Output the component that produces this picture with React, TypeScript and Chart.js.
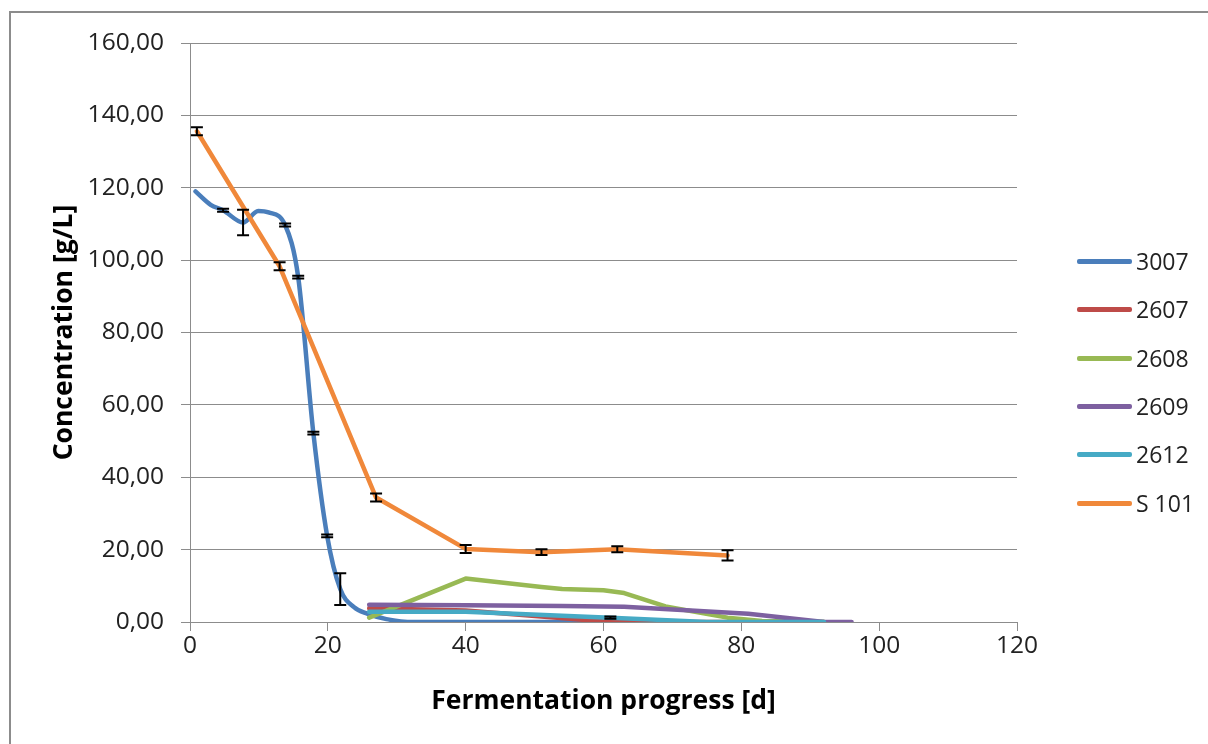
import React, { useEffect, useRef } from "react";
import { Chart, registerables } from "chart.js";

Chart.register(...registerables);

// ---- data ----
const seriesNames = ["3007", "2607", "2608", "2609", "2612", "S 101"];
const seriesColors = ["#4A7EBB", "#BE4B48", "#98B954", "#7D60A0", "#46AAC5", "#F0883A"];

const days3007 = [0.8, 3, 4.8, 7.7, 9.9, 11.4, 13.8, 15.7, 17.9, 19.9, 21.8, 23.8, 25.7, 28.5, 32.5, 40, 61];
const conc3007 = [119, 115.3, 113.8, 110.4, 113.6, 113.2, 109.7, 95.3, 52.2, 23.8, 9.1, 4.1, 2.3, 0.8, 0, 0, 0];
const err3007 = [0, 0, 0.4, 3.5, 0, 0, 0.4, 0.4, 0.4, 0.4, 4.4, 0, 0, 0, 0, 0, 0];

const days2607 = [26, 40, 61, 80, 92];
const conc2607 = [3.8, 3.2, 0, 0, 0];

const days2608 = [26, 40, 51, 54, 60, 63, 69, 78, 83, 92];
const conc2608 = [1.2, 12, 9.7, 9.1, 8.8, 8.0, 4.3, 1.2, 0.3, 0];

const days2609 = [26, 40, 54, 63, 81, 92, 96];
const conc2609 = [4.8, 4.6, 4.4, 4.2, 2.3, 0, 0];

const days2612 = [26, 40, 61, 75, 92];
const conc2612 = [2.8, 2.8, 1.2, 0, 0];
const err2612 = [0, 0, 0.3, 0, 0];

const daysS101 = [1, 13, 27, 40, 51, 62, 78];
const concS101 = [135.6, 98.3, 34.4, 20.2, 19.3, 20.1, 18.4];
const errS101 = [1.1, 1.1, 1.1, 1.1, 0.8, 0.8, 1.4];

const xTicksMax = 120;
const yTicksMax = 160;

const FONT = "'Open Sans', Lato, sans-serif";

function pts(xs: number[], ys: number[]) {
  return xs.map((x, i) => ({ x, y: ys[i] }));
}

const errorBarPlugin = {
  id: "errorBars",
  afterDatasetsDraw(chart: any) {
    const ctx = chart.ctx;
    const xs = chart.scales.x;
    const ys = chart.scales.y;
    ctx.save();
    ctx.strokeStyle = "#000";
    ctx.lineWidth = 2;
    chart.data.datasets.forEach((ds: any) => {
      const errs: number[] | undefined = ds.errors;
      if (!errs) return;
      ds.data.forEach((p: any, j: number) => {
        const e = errs[j];
        if (!e) return;
        const px = xs.getPixelForValue(p.x);
        const top = ys.getPixelForValue(p.y + e);
        const bot = ys.getPixelForValue(p.y - e);
        ctx.beginPath();
        ctx.moveTo(px, top);
        ctx.lineTo(px, bot);
        ctx.moveTo(px - 6, top);
        ctx.lineTo(px + 6, top);
        ctx.moveTo(px - 6, bot);
        ctx.lineTo(px + 6, bot);
        ctx.stroke();
      });
    });
    ctx.restore();
  },
};

export default function App() {
  const ref = useRef<HTMLCanvasElement | null>(null);

  useEffect(() => {
    if (!ref.current) return;
    const allX = [days3007, days2607, days2608, days2609, days2612, daysS101];
    const allY = [conc3007, conc2607, conc2608, conc2609, conc2612, concS101];
    const allErr: (number[] | undefined)[] = [err3007, undefined, undefined, undefined, err2612, errS101];
    const datasets = seriesNames.map((name, i) => ({
      label: name,
      data: pts(allX[i], allY[i]),
      errors: allErr[i],
      borderColor: seriesColors[i],
      backgroundColor: seriesColors[i],
      borderWidth: 4.5,
      pointRadius: 0,
      fill: false,
      tension: 0,
      cubicInterpolationMode: i === 0 ? "monotone" : "default",
      order: seriesNames.length - i,
      borderCapStyle: "round",
      borderJoinStyle: "round",
    }));

    const chart = new Chart(ref.current, {
      type: "line",
      data: { datasets: datasets as any },
      plugins: [errorBarPlugin],
      options: {
        responsive: false,
        animation: false,
        layout: { padding: { left: 0, top: 43, right: 191, bottom: 0 } },
        plugins: {
          legend: { display: false },
          tooltip: { enabled: false },
        },
        scales: {
          x: {
            type: "linear",
            min: 0,
            max: xTicksMax,
            afterFit: (s: any) => {
              s.height = 122;
            },
            ticks: {
              stepSize: 20,
              padding: 0,
              color: "#222",
              font: { family: FONT, size: 24.5 },
              maxRotation: 0,
            },
            grid: {
              drawOnChartArea: false,
              color: "#8c8c8c",
              tickLength: 9,
              lineWidth: 1,
            },
            border: { display: true, color: "#8c8c8c", width: 1 },
            title: {
              display: true,
              text: "Fermentation progress [d]",
              color: "#000",
              font: { family: FONT, size: 26.5, weight: "bold" },
              padding: { top: 0, bottom: 27 },
            },
          },
          y: {
            type: "linear",
            min: 0,
            max: yTicksMax,
            afterFit: (s: any) => {
              s.width = 190;
            },
            ticks: {
              stepSize: 20,
              padding: 17,
              color: "#222",
              font: { family: FONT, size: 24.5 },
              callback: (v: any) => Number(v).toFixed(2).replace(".", ","),
            },
            grid: {
              color: "#8c8c8c",
              tickLength: 9,
              lineWidth: 1,
            },
            border: { display: true, color: "#8c8c8c", width: 1 },
            title: {
              display: true,
              text: "Concentration [g/L]",
              color: "#000",
              font: { family: FONT, size: 26.5, weight: "bold" },
              padding: { top: 49, bottom: 0 },
            },
          },
        },
      } as any,
    });
    return () => chart.destroy();
  }, []);

  const legendRows = [261, 309, 358, 406, 454, 503];

  return (
    <div
      style={{
        position: "fixed",
        left: 0,
        top: 0,
        width: 1208,
        height: 744,
        overflow: "hidden",
        background: "#fff",
      }}
    >
      <div
        style={{
          position: "absolute",
          left: 9,
          top: 11,
          width: 1400,
          height: 1000,
          border: "2px solid #8c8c8c",
          boxSizing: "border-box",
        }}
      />
      <canvas
        ref={ref}
        width={1208}
        height={744}
        style={{ position: "absolute", left: 0, top: 0, display: "block" }}
      />
      {seriesNames.map((name, i) => (
        <div key={name}>
          <div
            style={{
              position: "absolute",
              left: 1077,
              top: legendRows[i] - 2,
              width: 55,
              height: 4.5,
              borderRadius: 2,
              background: seriesColors[i],
            }}
          />
          <div
            style={{
              position: "absolute",
              left: 1136,
              top: legendRows[i] - 16,
              height: 32,
              lineHeight: "32px",
              fontFamily: FONT,
              fontSize: 23,
              color: "#222",
              whiteSpace: "nowrap",
            }}
          >
            {name}
          </div>
        </div>
      ))}
    </div>
  );
}
